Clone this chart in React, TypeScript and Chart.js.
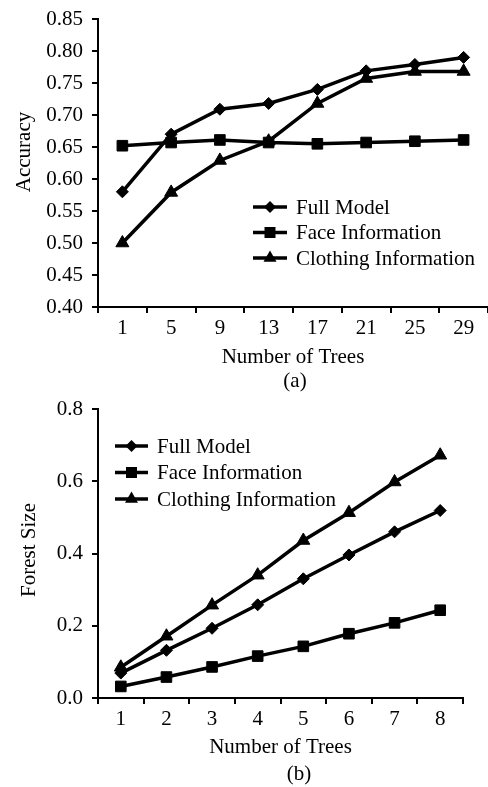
import React, { useEffect, useRef } from "react";
import { Chart, registerables } from "chart.js";

Chart.register(...registerables);

// ---------- Data (a) ----------
const treesA = ["1", "5", "9", "13", "17", "21", "25", "29"];
const fullModelA = [0.58, 0.67, 0.709, 0.718, 0.74, 0.769, 0.779, 0.79];
const faceInfoA = [0.652, 0.657, 0.661, 0.657, 0.655, 0.657, 0.659, 0.661];
const clothingInfoA = [0.5, 0.579, 0.629, 0.659, 0.718, 0.757, 0.768, 0.768];

// ---------- Data (b) ----------
const treesB = ["1", "2", "3", "4", "5", "6", "7", "8"];
const fullModelB = [0.069, 0.132, 0.193, 0.258, 0.33, 0.396, 0.46, 0.519];
const faceInfoB = [0.032, 0.058, 0.086, 0.116, 0.143, 0.178, 0.208, 0.243];
const clothingInfoB = [0.085, 0.171, 0.257, 0.34, 0.436, 0.513, 0.598, 0.672];

const seriesNames = ["Full Model", "Face Information", "Clothing Information"];
const pointStyles = ["rectRot", "rect", "triangle"];
const pointRadii = [6, 7.5, 7.5];

const FONT = '"Liberation Serif", "Times New Roman", serif';

function drawMarker(ctx: CanvasRenderingContext2D, style: string, x: number, y: number) {
  ctx.beginPath();
  if (style === "rectRot") {
    const r = 6;
    ctx.moveTo(x, y - r);
    ctx.lineTo(x + r, y);
    ctx.lineTo(x, y + r);
    ctx.lineTo(x - r, y);
  } else if (style === "rect") {
    const s = 5.5;
    ctx.rect(x - s, y - s, 2 * s, 2 * s);
  } else {
    const r = 7.5;
    ctx.moveTo(x, y - r);
    ctx.lineTo(x + r * Math.sin((2 * Math.PI) / 3), y - r * Math.cos((2 * Math.PI) / 3));
    ctx.lineTo(x - r * Math.sin((2 * Math.PI) / 3), y - r * Math.cos((2 * Math.PI) / 3));
  }
  ctx.closePath();
  ctx.fill();
}

const overlayPlugin = {
  id: "overlay",
  afterDraw(chart: any, _args: any, opts: any) {
    const ctx: CanvasRenderingContext2D = chart.ctx;
    ctx.save();
    ctx.fillStyle = "#000";
    ctx.strokeStyle = "#000";
    ctx.font = `21px ${FONT}`;
    // rotated y-axis title
    ctx.save();
    ctx.translate(opts.yTitleX, opts.yTitleY);
    ctx.rotate(-Math.PI / 2);
    ctx.textAlign = "center";
    ctx.textBaseline = "middle";
    ctx.fillText(opts.yTitle, 0, 0);
    ctx.restore();
    // legend
    ctx.textAlign = "left";
    ctx.textBaseline = "middle";
    chart.data.datasets.forEach((ds: any, i: number) => {
      const y = opts.legendY + i * opts.legendGap;
      ctx.lineWidth = 3.5;
      ctx.beginPath();
      ctx.moveTo(opts.legendX0, y);
      ctx.lineTo(opts.legendX1, y);
      ctx.stroke();
      drawMarker(ctx, ds.pointStyle, (opts.legendX0 + opts.legendX1) / 2, y);
      ctx.fillText(ds.label, opts.legendTextX, y + 1);
    });
    ctx.restore();
  },
};

function makeDatasets(series: number[][]) {
  return series.map((vals, i) => ({
    label: seriesNames[i],
    data: vals,
    borderColor: "#000",
    backgroundColor: "#000",
    borderWidth: 3.5,
    pointStyle: pointStyles[i],
    pointRadius: pointRadii[i],
    pointBorderWidth: 1,
    pointBackgroundColor: "#000",
    pointBorderColor: "#000",
    tension: 0,
    clip: false as any,
  }));
}

function makeConfig(opts: {
  labels: string[];
  series: number[][];
  yMin: number;
  yMax: number;
  yStep: number;
  decimals: number;
  padding: any;
  xHeight: number;
  overlay: any;
}) {
  return {
    type: "line" as const,
    data: { labels: opts.labels, datasets: makeDatasets(opts.series) },
    plugins: [overlayPlugin],
    options: {
      responsive: false,
      animation: false as const,
      layout: { padding: opts.padding, autoPadding: false },
      plugins: {
        legend: { display: false },
        tooltip: { enabled: false },
        overlay: opts.overlay,
      } as any,
      scales: {
        x: {
          type: "category" as const,
          offset: true,
          grid: {
            offset: true,
            drawOnChartArea: false,
            drawTicks: true,
            tickLength: 6,
            lineWidth: 2,
            color: "#000",
          },
          border: { display: true, color: "#000", width: 2 },
          ticks: { color: "#000", font: { family: FONT, size: 21 }, padding: 3, maxRotation: 0, autoSkip: false },
          title: {
            display: true,
            text: "Number of Trees",
            color: "#000",
            font: { family: FONT, size: 21 },
            padding: { top: 4, bottom: 4 },
          },
          afterFit: (scale: any) => {
            scale.height = opts.xHeight;
            scale.paddingLeft = 0;
            scale.paddingRight = 0;
          },
        },
        y: {
          min: opts.yMin,
          max: opts.yMax,
          grid: {
            drawOnChartArea: false,
            drawTicks: true,
            tickLength: 6,
            lineWidth: 2,
            color: "#000",
          },
          border: { display: true, color: "#000", width: 2 },
          ticks: {
            stepSize: opts.yStep,
            color: "#000",
            padding: 9,
            font: { family: FONT, size: 21 },
            callback: (v: any) => Number(v).toFixed(opts.decimals),
          },
          afterFit: (scale: any) => {
            scale.width = 98;
            scale.paddingTop = 0;
            scale.paddingBottom = 0;
          },
        },
      },
    },
  };
}

function ChartCanvas({ config, width, height }: { config: any; width: number; height: number }) {
  const ref = useRef<HTMLCanvasElement | null>(null);
  useEffect(() => {
    if (!ref.current) return;
    const chart = new Chart(ref.current, config);
    return () => chart.destroy();
  }, []);
  return <canvas ref={ref} width={width} height={height} style={{ display: "block", width, height }} />;
}

export default function App() {
  const configA = makeConfig({
    labels: treesA,
    series: [fullModelA, faceInfoA, clothingInfoA],
    yMin: 0.4,
    yMax: 0.85,
    yStep: 0.05,
    decimals: 2,
    padding: { top: 19, left: 0, right: 0, bottom: 26 },
    xHeight: 67,
    overlay: {
      yTitle: "Accuracy",
      yTitleX: 24,
      yTitleY: 152,
      legendX0: 253,
      legendX1: 287,
      legendTextX: 296,
      legendY: 207,
      legendGap: 25.5,
    },
  });
  const configB = makeConfig({
    labels: treesB,
    series: [fullModelB, faceInfoB, clothingInfoB],
    yMin: 0,
    yMax: 0.8,
    yStep: 0.2,
    decimals: 1,
    padding: { top: 9, left: 0, right: 25, bottom: 23 },
    xHeight: 66,
    overlay: {
      yTitle: "Forest Size",
      yTitleX: 29,
      yTitleY: 150,
      legendX0: 115,
      legendX1: 148,
      legendTextX: 157,
      legendY: 46,
      legendGap: 26.5,
    },
  });
  const caption: React.CSSProperties = {
    position: "absolute",
    width: 100,
    textAlign: "center",
    fontFamily: FONT,
    fontSize: 21,
    lineHeight: "24px",
    color: "#000",
  };
  return (
    <div style={{ position: "absolute", left: 0, top: 0, width: 488, height: 787, background: "#fff", overflow: "hidden" }}>
      <div style={{ position: "absolute", left: 0, top: 0 }}>
        <ChartCanvas config={configA} width={488} height={400} />
      </div>
      <div style={{ ...caption, left: 245, top: 368 }}>(a)</div>
      <div style={{ position: "absolute", left: 0, top: 400 }}>
        <ChartCanvas config={configB} width={488} height={387} />
      </div>
      <div style={{ ...caption, left: 249, top: 761 }}>(b)</div>
    </div>
  );
}
